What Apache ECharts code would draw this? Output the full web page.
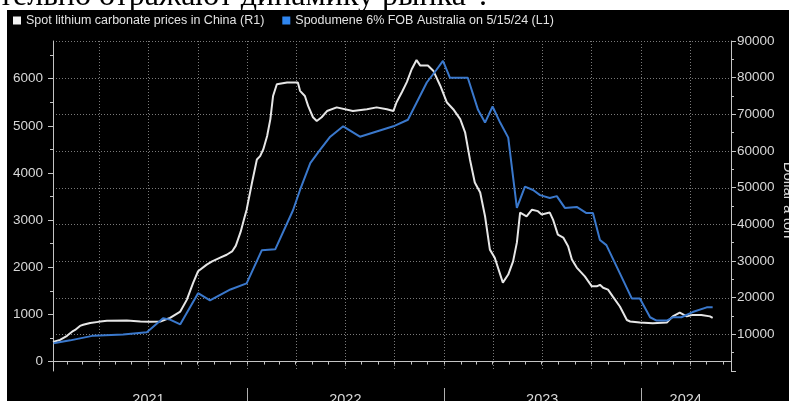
<!DOCTYPE html>
<html>
<head>
<meta charset="utf-8">
<script src="https://cdn.jsdelivr.net/npm/echarts@6.0.0/dist/echarts.min.js"></script>
<style>
  html, body { margin: 0; padding: 0; background: #fff; }
  #chart { width: 789px; height: 401px; }
</style>
</head>
<body>
<div id="chart"></div>
<script>
// Spot lithium carbonate, China ($/t, right axis)
const carbonateDates = [
  '2021-01-06','2021-01-19','2021-02-01','2021-02-12','2021-02-16','2021-02-25','2021-03-03','2021-03-16','2021-03-31',
  '2021-04-16','2021-05-23','2021-06-17','2021-07-05','2021-07-24','2021-08-11','2021-08-30','2021-09-11','2021-09-23',
  '2021-10-02','2021-10-18','2021-10-28','2021-11-12','2021-11-24','2021-12-04','2021-12-11','2021-12-20','2021-12-26',
  '2021-12-31','2022-01-10','2022-01-19','2022-01-25','2022-01-31','2022-02-07','2022-02-13','2022-02-18','2022-02-25',
  '2022-03-16','2022-04-05','2022-04-09','2022-04-18','2022-04-24','2022-05-03','2022-05-10','2022-05-19','2022-05-29',
  '2022-06-16','2022-07-16','2022-08-11','2022-08-29','2022-09-17','2022-09-29','2022-10-05','2022-10-15','2022-10-24',
  '2022-11-02','2022-11-11','2022-11-18','2022-12-02','2022-12-12','2022-12-25','2023-01-06','2023-01-18','2023-01-31',
  '2023-02-09','2023-02-18','2023-02-27','2023-03-09','2023-03-18','2023-03-27','2023-04-05','2023-04-20','2023-04-30',
  '2023-05-09','2023-05-16','2023-05-22','2023-06-03','2023-06-13','2023-06-24','2023-07-01','2023-07-16','2023-07-22',
  '2023-07-31','2023-08-10','2023-08-19','2023-08-26','2023-09-04','2023-09-19','2023-10-02','2023-10-11','2023-10-17',
  '2023-10-23','2023-11-01','2023-11-10','2023-11-23','2023-12-06','2023-12-12','2023-12-30','2024-01-23','2024-02-18',
  '2024-02-29','2024-03-13','2024-03-26','2024-04-06','2024-04-22','2024-05-08','2024-05-13'
];
const carbonatePrices = [
  7900, 8500, 9600, 10900, 11200, 12300, 12600, 13100, 13400,
  13700, 13800, 13500, 13400, 13500, 14500, 16200, 19400, 24100,
  27200, 29000, 29900, 30900, 31700, 32600, 34200, 38000, 41300,
  44000, 51400, 57700, 58600, 60500, 64100, 68700, 75000, 78200,
  78700, 78700, 76400, 75000, 72300, 69200, 68200, 69200, 70900,
  71900, 70900, 71400, 71900, 71400, 70900, 73300, 76100, 78800,
  82300, 84800, 83300, 83300, 81900, 77800, 73300, 71400, 68700,
  65100, 57700, 51400, 48700, 42200, 33100, 30900, 24100, 26300,
  29900, 35000, 43200, 42200, 44000, 43600, 42700, 43200, 41300,
  37200, 36400, 34000, 30400, 28200, 25800, 23100, 23100, 23500,
  22700, 22200, 20300, 17600, 13900, 13500, 13200, 13000, 13200,
  14900, 15900, 14900, 15300, 15300, 14900, 14500
];

// Spodumene 6% FOB Australia ($/t, left axis)
const spodumeneDates = [
  '2021-01-07','2021-02-07','2021-03-22','2021-05-16','2021-06-29','2021-07-29','2021-08-11','2021-08-30','2021-10-02',
  '2021-10-24','2021-12-01','2021-12-31','2022-01-28','2022-02-22','2022-03-27','2022-04-09','2022-04-28','2022-05-16',
  '2022-06-04','2022-06-28','2022-07-29','2022-08-29','2022-09-29','2022-10-26','2022-11-11','2022-11-30','2022-12-18',
  '2022-12-30','2023-01-12','2023-02-14','2023-03-05','2023-03-18','2023-04-01','2023-04-15','2023-04-30','2023-05-16',
  '2023-05-31','2023-06-15','2023-06-28','2023-07-16','2023-07-29','2023-08-13','2023-09-04','2023-09-22','2023-10-04',
  '2023-10-17','2023-10-29','2023-11-23','2023-12-15','2023-12-30','2024-01-18','2024-01-30','2024-02-18','2024-02-29',
  '2024-03-16','2024-04-06','2024-05-02','2024-05-13'
];
const spodumenePrices = [
  390, 450, 550, 575, 620, 920, 890, 790, 1450,
  1300, 1530, 1660, 2360, 2380, 3210, 3640, 4210, 4490,
  4770, 4990, 4770, 4880, 4990, 5130, 5490, 5920, 6190,
  6380, 6020, 6020, 5340, 5070, 5410, 5070, 4750, 3260,
  3710, 3640, 3530, 3470, 3510, 3260, 3280, 3150, 3150,
  2580, 2470, 1870, 1340, 1340, 940, 870, 870, 940,
  940, 1050, 1150, 1150
];

const leftTicks = [0, 1000, 2000, 3000, 4000, 5000, 6000];
const leftMinorTicks = [500, 1500, 2500, 3500, 4500, 5500, 6500];
const rightGridValues = [10000, 20000, 30000, 40000, 50000, 60000, 70000, 80000, 90000];
const yearLabels = ['2021', '2022', '2023', '2024'];
const yearLabelDates = ['2021-07-02', '2022-07-02', '2023-07-02', '2024-03-24'];
const yearStarts = ['2022-01-01', '2023-01-01', '2024-01-01'];
const quarterStarts = [
  '2021-04-01','2021-07-01','2021-10-01','2022-01-01','2022-04-01','2022-07-01','2022-10-01',
  '2023-01-01','2023-04-01','2023-07-01','2023-10-01','2024-01-01','2024-04-01'
];

// dates -> millisecond timestamps (UTC) for the numeric x axis
const ts = s => { const p = s.split('-').map(Number); return Date.UTC(p[0], p[1] - 1, p[2]); };

const X_MIN = ts('2021-01-06');
const X_MAX = ts('2024-06-16');

const monthStarts = [];
for (let y = 2021; y <= 2024; y++) {
  for (let m = 0; m < 12; m++) {
    const t = Date.UTC(y, m, 1);
    if (t > X_MIN && t < X_MAX) monthStarts.push(t);
  }
}

const yearLabelTs = yearLabelDates.map(ts);
const AXIS_COLOR = '#c4c4c4';
const TEXT_COLOR = '#d8d8d8';
const GRID_COLOR = '#7a7a7a';
const FONT = '"Liberation Sans", Arial, sans-serif';

const staticGraphics = [
  { type: 'rect', shape: { x: 0, y: 0, width: 789, height: 10 }, style: { fill: '#fff' }, silent: true },
  { type: 'rect', shape: { x: 0, y: 0, width: 7, height: 401 }, style: { fill: '#fff' }, silent: true },
  {
    type: 'text', x: -1, y: -3, silent: true,
    style: {
      text: 'тельно отражают динамику рынка".',
      font: '32px "Liberation Serif", "DejaVu Serif", serif',
      fill: '#000', verticalAlign: 'middle', align: 'left'
    }
  },
  {
    type: 'text', x: 788, y: 200, rotation: -Math.PI / 2, silent: true,
    style: {
      text: 'Dollar a ton', font: '15px ' + FONT, fill: TEXT_COLOR,
      align: 'center', verticalAlign: 'middle'
    }
  }
];

const chart = echarts.init(document.getElementById('chart'));
chart.setOption({
  animation: false,
  backgroundColor: '#000',
  textStyle: { fontFamily: FONT },
  graphic: staticGraphics,
  legend: {
    left: 13, top: 14, padding: 0,
    icon: 'rect', itemWidth: 8, itemHeight: 8, itemGap: 18,
    textStyle: { color: '#e2e2e2', fontSize: 12.5, fontFamily: FONT },
    data: ['Spot lithium carbonate prices in China (R1)', 'Spodumene 6% FOB Australia on 5/15/24 (L1)']
  },
  grid: { left: 53, right: 58, top: 41, bottom: 30, containLabel: false, outerBoundsMode: 'none' },
  xAxis: {
    type: 'value', min: X_MIN, max: X_MAX,
    axisLine: { show: true, lineStyle: { color: AXIS_COLOR, width: 1 } },
    axisTick: { show: true, customValues: monthStarts, length: 3, lineStyle: { color: AXIS_COLOR } },
    axisLabel: {
      show: true, customValues: yearLabelTs, margin: 21,
      color: TEXT_COLOR, fontSize: 14.5, fontFamily: FONT,
      formatter: v => {
        const i = yearLabelTs.indexOf(v);
        return i >= 0 ? yearLabels[i] : '';
      }
    },
    splitLine: { show: false }
  },
  yAxis: [
    {
      type: 'value', position: 'left', min: -200, max: 6800,
      axisLine: { show: true, lineStyle: { color: AXIS_COLOR } },
      axisTick: { show: true, customValues: leftTicks, length: 5, lineStyle: { color: AXIS_COLOR } },
      axisLabel: {
        customValues: leftTicks, color: TEXT_COLOR, fontSize: 13.5, fontFamily: FONT, margin: 10,
        formatter: v => String(v)
      },
      splitLine: { show: false }
    },
    {
      type: 'value', position: 'right', min: 0, max: 90000, interval: 10000,
      axisLine: { show: true, lineStyle: { color: AXIS_COLOR } },
      axisTick: { show: true, length: 5, lineStyle: { color: AXIS_COLOR } },
      minorTick: { show: true, splitNumber: 2, length: 3, lineStyle: { color: AXIS_COLOR } },
      axisLabel: {
        color: TEXT_COLOR, fontSize: 13.5, fontFamily: FONT, margin: 6,
        formatter: v => (v === 0 ? '' : String(v))
      },
      splitLine: { show: false }
    },
    {
      type: 'value', position: 'left', min: -200, max: 6800,
      axisLine: { show: false },
      axisTick: { show: true, customValues: leftMinorTicks, length: 3, lineStyle: { color: AXIS_COLOR } },
      axisLabel: { show: false },
      splitLine: { show: false }
    }
  ],
  series: [
    {
      name: 'Spot lithium carbonate prices in China (R1)',
      type: 'line', yAxisIndex: 1, showSymbol: false, symbol: 'none', z: 3,
      data: carbonateDates.map((d, i) => [ts(d), carbonatePrices[i]]),
      itemStyle: { color: '#f2f2f2' },
      lineStyle: { color: '#e6e6e6', width: 2 }
    },
    {
      name: 'Spodumene 6% FOB Australia on 5/15/24 (L1)',
      type: 'line', yAxisIndex: 0, showSymbol: false, symbol: 'none', z: 4,
      data: spodumeneDates.map((d, i) => [ts(d), spodumenePrices[i]]),
      itemStyle: { color: '#2f86f0' },
      lineStyle: { color: '#3a78cc', width: 2 }
    }
  ]
});

// Dotted grid and year separators, positioned through the chart's own axis scales
const gridRect = { left: 53, right: 789 - 58, top: 41, bottom: 401 - 30 };
const crisp = v => Math.round(v) + 0.5;
const dotted = { stroke: GRID_COLOR, lineWidth: 1, lineDash: [1, 2] };

const hLines = rightGridValues.map(v => {
  const y = crisp(chart.convertToPixel({ yAxisIndex: 1 }, v));
  return { type: 'line', silent: true, z: -1, shape: { x1: gridRect.left, y1: y, x2: gridRect.right, y2: y }, style: dotted };
});
const vLines = quarterStarts.map(d => {
  const x = crisp(chart.convertToPixel({ xAxisIndex: 0 }, ts(d)));
  return { type: 'line', silent: true, z: -1, shape: { x1: x, y1: gridRect.top, x2: x, y2: gridRect.bottom }, style: dotted };
});
const separators = yearStarts.map(d => {
  const x = crisp(chart.convertToPixel({ xAxisIndex: 0 }, ts(d)));
  return { type: 'line', silent: true, shape: { x1: x, y1: 388, x2: x, y2: 401 }, style: { stroke: '#b0b0b0', lineWidth: 1 } };
});
chart.setOption({ graphic: staticGraphics.concat(hLines, vLines, separators) });
</script>
</body>
</html>
